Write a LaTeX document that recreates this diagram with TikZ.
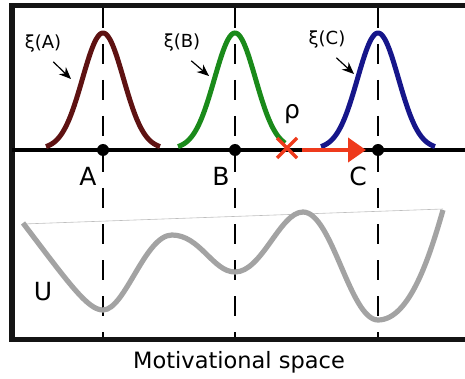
\documentclass[tikz,border=0pt]{standalone}
\usepackage{fontspec}
\setmainfont{DejaVu Sans}
\usepackage{tikz}
\usetikzlibrary{arrows.meta}

\definecolor{peakA}{HTML}{5E1212}
\definecolor{peakB}{HTML}{1A8A1A}
\definecolor{peakC}{HTML}{16168A}
\definecolor{moveRed}{HTML}{EE3A1C}
\definecolor{landGray}{HTML}{A3A3A3}

\begin{document}
\begin{tikzpicture}[x=0.5pt, y=-0.5pt,
    frame/.style={line width=2.6pt, color=black!92},
    axis/.style={line width=1.6pt, black},
    guide/.style={line width=0.6pt, black, dash pattern=on 10pt off 8pt},
    peak/.style={line width=2.5pt, domain=-57:57, samples=90},
    label/.style={font=\fontsize{12.5}{15}\selectfont},
    small/.style={font=\fontsize{9}{11}\selectfont},
    pointer/.style={-{Stealth[length=6pt, width=5pt]}, line width=0.6pt},
    dot/.style={circle, fill=black, inner sep=0pt, minimum size=6pt}]

    \useasboundingbox (0,0) rectangle (465,379);

    % frame and axis
    \draw[frame] (465,5.5) -- (12,5.5) -- (12,339.5) -- (465,339.5);
    \draw[axis] (12,150) -- (465,150);

    % guides through the three points
    \foreach \px in {103,235,378}
        \draw[guide] (\px,8) -- (\px,337);

    % the three distributions
    \draw[peak, peakA] plot ({103+\x}, {149-116*exp(-\x*\x/(2*20.5*20.5))});
    \draw[peak, peakB, domain=-57:50] plot ({235+\x}, {149-116*exp(-\x*\x/(2*20.5*20.5))});
    \draw[peak, peakC] plot ({378+\x}, {149-116*exp(-\x*\x/(2*20.5*20.5))});

    \node[dot] (A) at (103,150) {};
    \node[dot] (B) at (235,150) {};
    \node[dot] (C) at (378,150) {};

    \node[label] (labA) at (88,176) {A};
    \node[label] (labB) at (221,176) {B};
    \node[label] (labC) at (358,176) {C};

    % labels of the distributions
    \node[small] (xiA) at (43,44) {ξ(A)};
    \node[small] (xiB) at (182,43) {ξ(B)};
    \node[small] (xiC) at (327,40) {ξ(C)};
    \coordinate (tipA) at (71,79);
    \coordinate (tipB) at (209,76);
    \coordinate (tipC) at (354,74);
    \draw[pointer] (xiA.south east) ++(-15,2) -- (tipA);
    \draw[pointer] (xiB.south east) ++(-16,2) -- (tipB);
    \draw[pointer] (xiC.south east) ++(-16,2) -- (tipC);

    % current state and move
    \node[label] (rho) at (292,114) {ρ};
    \coordinate (cross) at (287,148);
    \draw[moveRed, line width=1.6pt] (cross) ++(-10,-10) -- ++(20,20)
        (cross) ++(-10,10) -- ++(20,-20);
    \coordinate (moveEnd) at (366,150);
    \draw[moveRed, line width=2pt, -{Triangle[length=9pt, width=12pt]}] (302,150) -- (moveEnd);

    % landscape
    \draw[landGray!70, line width=0.3pt] (23,224) -- (443,209);
    \draw[landGray, line width=2.6pt]
        (23,223) .. controls (70,285) and (88,310) .. (103,310)
        .. controls (125,310) and (145,235) .. (172,235)
        .. controls (200,235) and (213,272) .. (235,272)
        .. controls (262,272) and (280,212) .. (303,212)
        .. controls (332,212) and (350,320) .. (378,320)
        .. controls (410,320) and (430,255) .. (443,210);
    \node[label] (U) at (43,292) {U};

    \node[font=\fontsize{11.25}{13}\selectfont] (space) at (239,362) {Motivational space};

\end{tikzpicture}
\end{document}
